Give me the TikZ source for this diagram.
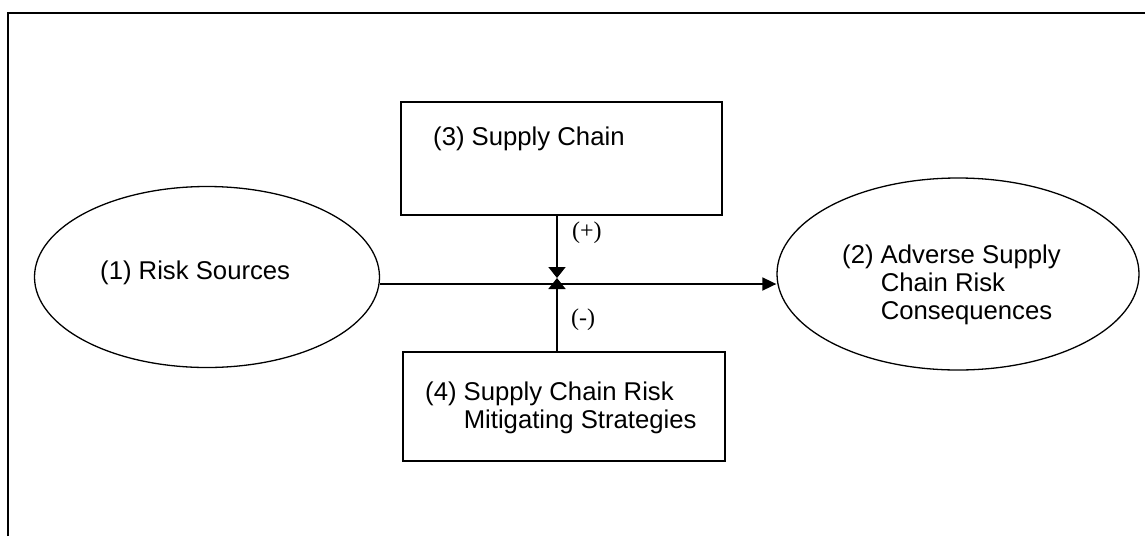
\documentclass[tikz,border=0pt]{standalone}
\usepackage{fontspec}
\setmainfont{Liberation Sans}
\newfontfamily\signfont{Liberation Serif}
\usetikzlibrary{shapes.geometric,arrows.meta}

\begin{document}
\begin{tikzpicture}[x=1pt,y=-1pt,
  oval/.style={draw,ellipse,line width=1.3pt,inner sep=0pt},
  box/.style={draw,rectangle,line width=1.8pt,inner sep=0pt},
  lbl/.style={anchor=base west,inner sep=0pt,font=\fontsize{25.7}{28}\selectfont},
  sign/.style={anchor=base west,inner sep=0pt,font=\signfont\fontsize{24}{26}\selectfont},
  link/.style={line width=1.8pt},
  maintip/.style={-{Triangle[length=14pt,width=13pt]}},
  bowtip/.style={-{Triangle[length=11pt,width=17pt]}}
]
\useasboundingbox (0,0) rectangle (1145,536);

% frame
\draw[line width=2pt] (8,536) -- (8,13) -- (1145,13);

% shapes
\node[oval,minimum width=345pt,minimum height=181pt] (risk) at (207,277) {};
\node[oval,minimum width=362pt,minimum height=192pt] (cons) at (958,274) {};
\node[box,minimum width=321pt,minimum height=113pt] (sc) at (561.5,158.5) {};
\node[box,minimum width=322pt,minimum height=109pt] (mit) at (564,406.5) {};

% texts
\node[lbl] (t1) at (100,279) {(1) Risk Sources};
\node[lbl] (t3) at (433,145) {(3) Supply Chain};
\node[lbl] (t2) at (842,263) {\begin{tabular}[t]{@{}l@{}}(2) Adverse Supply\\\hphantom{(2) }Chain Risk\\\hphantom{(2) }Consequences\end{tabular}};
\node[lbl] (t4) at (425,400) {\begin{tabular}[t]{@{}l@{}}(4) Supply Chain Risk\\\hphantom{(4) }Mitigating Strategies\end{tabular}};
\node[sign] (plus) at (572,238) {(+)};
\node[sign] (minus) at (571,325) {(-)};

% connectors
\coordinate (hub) at (557,284);
\coordinate (knot) at (557,278);
\draw[link,maintip] (risk.east |- hub) -- (cons.west |- hub);
\draw[link,bowtip] (sc.south -| knot) -- (knot);
\draw[link,bowtip] (mit.north -| knot) -- (knot);
\end{tikzpicture}
\end{document}
